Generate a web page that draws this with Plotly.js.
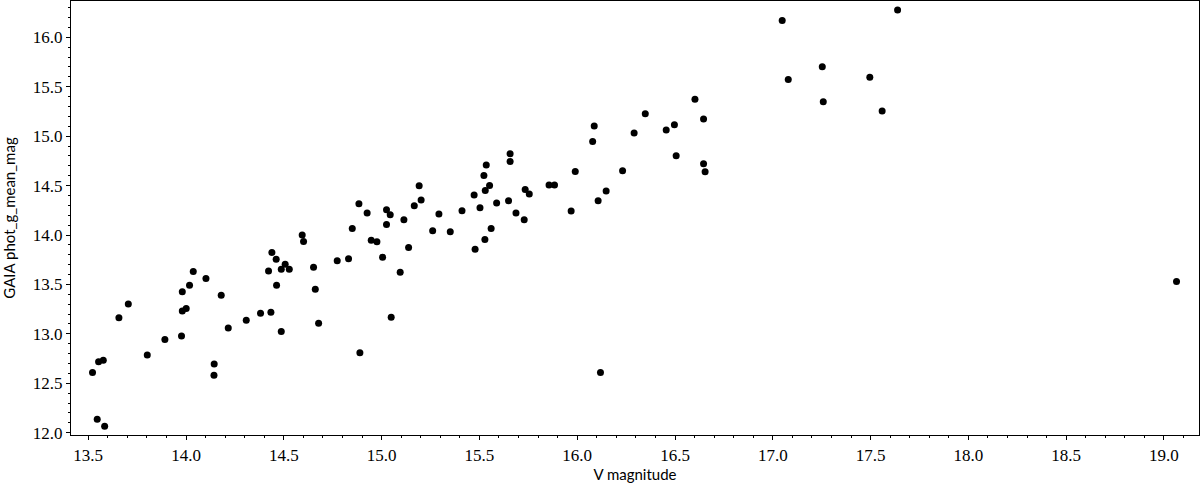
<!DOCTYPE html>
<html>
<head>
<meta charset="utf-8">
<script src="https://cdn.plot.ly/plotly-3.0.1.min.js"></script>
<style>
  html, body { margin: 0; padding: 0; background: #fff; }
  #chart { width: 1200px; height: 486px; }
</style>
</head>
<body>
<div id="chart"></div>
<script>
// V magnitude vs GAIA G magnitude
const vMag = [
  13.522, 13.546, 13.584, 13.553, 13.577, 13.657, 13.705, 13.802, 13.892, 13.977,
  13.981, 14.001, 13.981, 14.018, 14.037, 14.102, 14.144, 14.143, 14.180, 14.216,
  14.308, 14.381, 14.434, 14.487, 14.422, 14.439, 14.461, 14.463, 14.487, 14.507,
  14.528, 14.594, 14.601, 14.652, 14.661, 14.678, 14.773, 14.831, 14.850, 14.884,
  14.889, 14.926, 14.947, 14.976, 15.005, 15.025, 15.025, 15.044, 15.049, 15.095,
  15.114, 15.138, 15.167, 15.192, 15.202, 15.261, 15.293, 15.351, 15.411, 15.473,
  15.478, 15.503, 15.523, 15.535, 15.530, 15.552, 15.528, 15.560, 15.588, 15.649,
  15.657, 15.657, 15.687, 15.729, 15.734, 15.755, 15.856, 15.884, 15.969, 15.990,
  16.079, 16.087, 16.107, 16.119, 16.148, 16.232, 16.291, 16.348, 16.455, 16.497,
  16.506, 16.602, 16.646, 16.646, 16.654, 17.048, 17.079, 17.253, 17.258, 17.496,
  17.559, 17.638, 19.064
];
const gMag = [
  12.608, 12.136, 12.065, 12.719, 12.733, 13.162, 13.303, 12.787, 12.942, 12.979,
  13.232, 13.256, 13.425, 13.492, 13.630, 13.560, 12.696, 12.581, 13.391, 13.060,
  13.138, 13.209, 13.219, 13.023, 13.637, 13.823, 13.756, 13.493, 13.654, 13.705,
  13.654, 13.999, 13.934, 13.675, 13.452, 13.108, 13.739, 13.759, 14.066, 14.316,
  12.810, 14.222, 13.948, 13.931, 13.776, 14.106, 14.255, 14.205, 13.169, 13.624,
  14.154, 13.874, 14.296, 14.498, 14.353, 14.043, 14.212, 14.032, 14.245, 14.404,
  13.857, 14.276, 14.603, 14.708, 14.451, 14.501, 13.955, 14.066, 14.323, 14.346,
  14.744, 14.823, 14.222, 14.154, 14.461, 14.414, 14.505, 14.505, 14.242, 14.643,
  14.947, 15.103, 14.346, 12.608, 14.444, 14.650, 15.032, 15.227, 15.062, 15.116,
  14.802, 15.372, 15.174, 14.721, 14.640, 16.169, 15.572, 15.703, 15.349, 15.595,
  15.255, 16.277, 13.529
];

const tickFont = { family: "Liberation Serif, DejaVu Serif, serif", size: 17, color: "#000" };
const titleFont = { family: "Lato, DejaVu Sans, sans-serif", size: 15, color: "#000" };

const axisBase = {
  showline: true,
  linecolor: "#000",
  linewidth: 1.2,
  mirror: true,
  showgrid: false,
  zeroline: false,
  ticks: "outside",
  ticklen: 4,
  tickwidth: 1,
  tickcolor: "#000",
  tickfont: tickFont,
  tickformat: ".1f",
  dtick: 0.5,
  minor: { ticks: "outside", dtick: 0.1, ticklen: 2, tickwidth: 1, tickcolor: "#000", showgrid: false }
};

Plotly.newPlot("chart", [{
  type: "scatter",
  mode: "markers",
  x: vMag,
  y: gMag,
  marker: { color: "#000", size: 7 },
  hoverinfo: "x+y"
}], {
  width: 1200,
  height: 486,
  paper_bgcolor: "#fff",
  plot_bgcolor: "#fff",
  margin: { l: 71, r: 1, t: 1, b: 51 },
  showlegend: false,
  xaxis: {
    ...axisBase,
    range: [13.412, 19.179],
    tick0: 13.5,
    title: { text: "V magnitude", font: titleFont, standoff: 4 }
  },
  yaxis: {
    ...axisBase,
    range: [11.977, 16.367],
    tick0: 12,
    title: { text: "GAIA phot_g_mean_mag", font: titleFont, standoff: 13 }
  }
}, { displayModeBar: false, staticPlot: true });
</script>
</body>
</html>
